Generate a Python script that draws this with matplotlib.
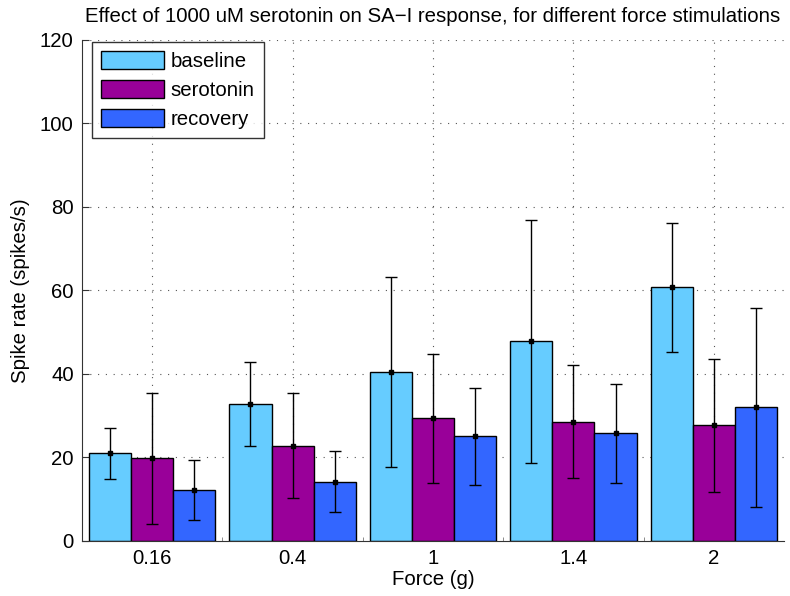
import numpy as np
import matplotlib.pyplot as plt
from matplotlib.ticker import FixedLocator

plt.rcParams['font.family'] = ['Liberation Sans', 'DejaVu Sans']

forces = ['0.16', '0.4', '1', '1.4', '2']
conditions = ['baseline', 'serotonin', 'recovery']
colors = ['#66CCFF', '#990099', '#3366FF']

baseline = [21.0, 32.8, 40.5, 47.8, 60.8]
serotonin = [19.8, 22.8, 29.5, 28.6, 27.7]
recovery = [12.2, 14.1, 25.1, 25.8, 32.0]

baseline_hi = [27.1, 42.8, 63.3, 77.0, 76.2]
serotonin_hi = [35.5, 35.5, 44.9, 42.2, 43.7]
recovery_hi = [19.4, 21.5, 36.7, 37.7, 55.8]

baseline_lo = [14.8, 22.8, 17.8, 18.7, 45.3]
serotonin_lo = [4.1, 10.2, 14.0, 15.0, 11.7]
recovery_lo = [5.0, 6.9, 13.3, 14.0, 8.1]

means = [baseline, serotonin, recovery]
highs = [baseline_hi, serotonin_hi, recovery_hi]
lows = [baseline_lo, serotonin_lo, recovery_lo]

fs = 14.7

fig = plt.figure(figsize=(7.9, 5.96), dpi=100)
ax = fig.add_axes([0.1038, 0.0923, 0.8886, 0.8406])

x = np.arange(1, len(forces) + 1)
w = 0.3

for i, name in enumerate(conditions):
    xs = x + (i - 1) * w
    m = np.array(means[i])
    hi = np.array(highs[i])
    lo = np.array(lows[i])
    ax.bar(xs, m, width=w, color=colors[i], edgecolor='black',
           linewidth=1.0, label=name, zorder=2)
    ax.errorbar(xs, m, yerr=[m - lo, hi - m], fmt='s', color='black',
                markersize=2.2, ecolor='black', elinewidth=1.0,
                capsize=4.5, capthick=1.0, zorder=3)

ax.set_xlim(0.5, 5.5)
ax.set_ylim(0, 120)
ax.set_xticks(x)
ax.set_xticklabels(forces)
ax.set_yticks(np.arange(0, 121, 20))
ax.xaxis.set_minor_locator(FixedLocator(np.arange(0.5, 5.5, 1 / 14)))

# dotted grid under the bars
ax.grid(True, which='major', linestyle=(0, (1, 6)), color='#555555',
        linewidth=0.8, zorder=0)
ax.set_axisbelow(True)

for s in ['top', 'right']:
    ax.spines[s].set_visible(False)
for s in ['left', 'bottom']:
    ax.spines[s].set_linewidth(0.8)
    ax.spines[s].set_color('#333333')

ax.tick_params(which='major', direction='in', length=5, width=0.8,
               labelsize=fs, pad=6, colors='#333333', labelcolor='black')
ax.tick_params(which='minor', direction='in', length=3, width=0.6,
               colors='#777777')
ax.tick_params(axis='y', which='minor', left=False)

ax.set_xlabel('Force (g)', fontsize=fs, labelpad=1)
ax.set_ylabel('Spike rate (spikes/s)', fontsize=fs, labelpad=7)
ax.set_title('Effect of 1000 uM serotonin on SA\u2212I response, for different force stimulations',
             fontsize=fs, pad=13)

leg = ax.legend(loc='upper left', bbox_to_anchor=(0.014, 0.996), fontsize=fs,
                frameon=True, fancybox=False, edgecolor='black',
                handlelength=3.1, handleheight=0.95, handletextpad=0.3,
                labelspacing=0.45, borderpad=0.45, borderaxespad=0)
leg.get_frame().set_linewidth(1.0)

fig.savefig('out.png', dpi=100, facecolor='white')
